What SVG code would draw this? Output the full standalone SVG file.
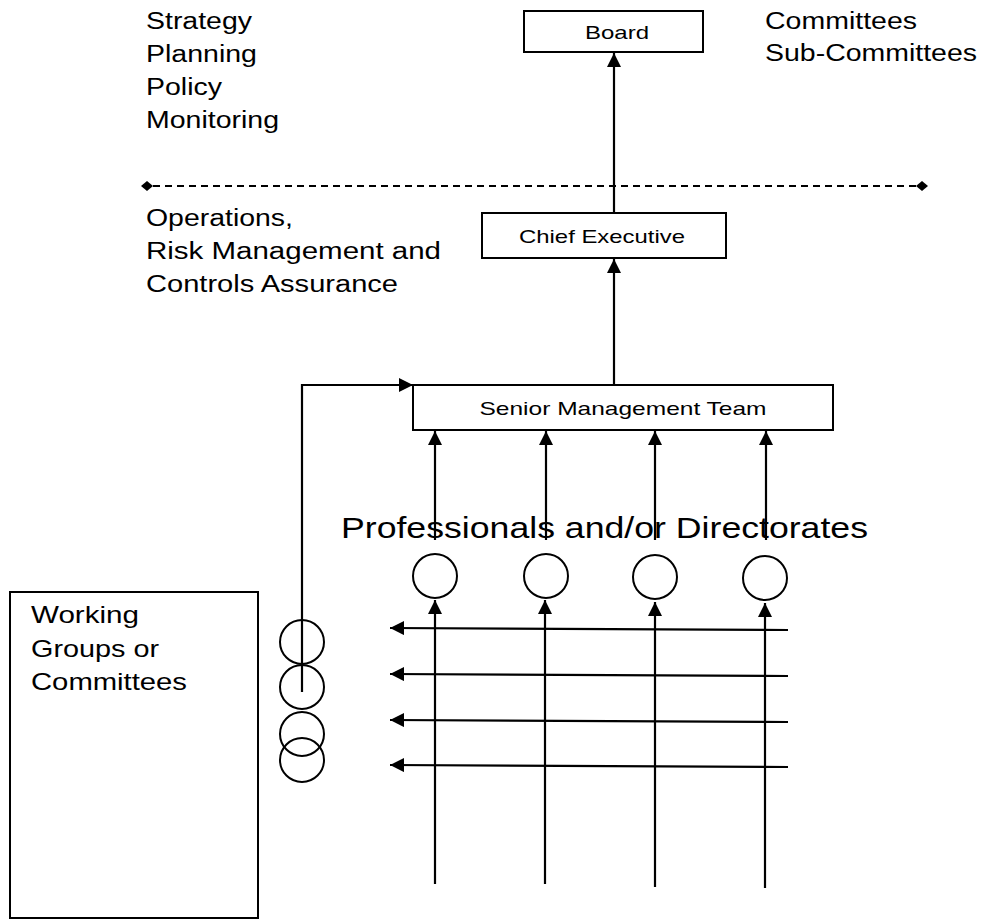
<svg xmlns="http://www.w3.org/2000/svg" width="994" height="920" viewBox="0 0 994 920">
<defs>
<style>
.t{font-family:"Liberation Sans",Arial,sans-serif;fill:#000}
.big{font-size:23px}
.bx{font-size:19px}
.box{fill:#fff;stroke:#000;stroke-width:2}
.ln{stroke:#000;stroke-width:2.2;fill:none}
.c{fill:none;stroke:#000;stroke-width:2}
</style>
<marker id="ah" viewBox="0 0 10 10" refX="10" refY="5" markerWidth="6.5" markerHeight="6.5" orient="auto"><path d="M0,0 L10,5 L0,10 z" fill="#000"/></marker>
</defs>
<rect width="994" height="920" fill="#fff"/>
<g id="labels-top">
<text class="t big" x="146" y="29" textLength="106" lengthAdjust="spacingAndGlyphs">Strategy</text>
<text class="t big" x="146" y="62" textLength="111" lengthAdjust="spacingAndGlyphs">Planning</text>
<text class="t big" x="146" y="95" textLength="76" lengthAdjust="spacingAndGlyphs">Policy</text>
<text class="t big" x="146" y="128" textLength="133" lengthAdjust="spacingAndGlyphs">Monitoring</text>
<text class="t big" x="765" y="29" textLength="152" lengthAdjust="spacingAndGlyphs">Committees</text>
<text class="t big" x="765" y="61" textLength="212" lengthAdjust="spacingAndGlyphs">Sub-Committees</text>
</g>
<g id="labels-ops">
<text class="t big" x="146" y="226" textLength="147" lengthAdjust="spacingAndGlyphs">Operations,</text>
<text class="t big" x="146" y="259" textLength="295" lengthAdjust="spacingAndGlyphs">Risk Management and</text>
<text class="t big" x="146" y="292" textLength="252" lengthAdjust="spacingAndGlyphs">Controls Assurance</text>
</g>
<g id="connectors">
<line class="ln" x1="153" y1="186" x2="916" y2="186" stroke-dasharray="7,5"/>
<polygon points="141,186 147,181 153,186 147,191" fill="#000"/>
<polygon points="916,186 922,181 928,186 922,191" fill="#000"/>
<line class="ln" x1="614" y1="213" x2="614" y2="53" marker-end="url(#ah)"/>
<line class="ln" x1="614" y1="384" x2="614" y2="259" marker-end="url(#ah)"/>
<polyline class="ln" points="302,692 302,385 413,385" marker-end="url(#ah)"/>
<line class="ln" x1="435" y1="540" x2="435" y2="431" marker-end="url(#ah)"/>
<line class="ln" x1="546" y1="540" x2="546" y2="431" marker-end="url(#ah)"/>
<line class="ln" x1="655" y1="540" x2="655" y2="431" marker-end="url(#ah)"/>
<line class="ln" x1="766" y1="540" x2="766" y2="431" marker-end="url(#ah)"/>
<line class="ln" x1="435" y1="884" x2="435" y2="600" marker-end="url(#ah)"/>
<line class="ln" x1="545" y1="884" x2="545" y2="600" marker-end="url(#ah)"/>
<line class="ln" x1="655" y1="887" x2="655" y2="602" marker-end="url(#ah)"/>
<line class="ln" x1="765" y1="888" x2="765" y2="603" marker-end="url(#ah)"/>
<line class="ln" x1="788" y1="630" x2="390" y2="628" marker-end="url(#ah)"/>
<line class="ln" x1="788" y1="676" x2="390" y2="674" marker-end="url(#ah)"/>
<line class="ln" x1="788" y1="722" x2="390" y2="720" marker-end="url(#ah)"/>
<line class="ln" x1="788" y1="767" x2="390" y2="765" marker-end="url(#ah)"/>
</g>
<g id="board">
<rect class="box" x="524" y="11" width="179" height="41"/>
<text class="t bx" x="617" y="39" text-anchor="middle" textLength="64" lengthAdjust="spacingAndGlyphs">Board</text>
</g>
<g id="chief-executive">
<rect class="box" x="482" y="213" width="244" height="45"/>
<text class="t bx" x="602" y="243" text-anchor="middle" textLength="166" lengthAdjust="spacingAndGlyphs">Chief Executive</text>
</g>
<g id="senior-management-team">
<rect class="box" x="413" y="385" width="420" height="45"/>
<text class="t bx" x="623" y="415" text-anchor="middle" textLength="287" lengthAdjust="spacingAndGlyphs">Senior Management Team</text>
</g>
<g id="professionals">
<text class="t" x="341" y="538" font-size="30" textLength="527" lengthAdjust="spacingAndGlyphs">Professionals and/or Directorates</text>
<circle class="c" cx="435" cy="576" r="22"/>
<circle class="c" cx="546" cy="576" r="22"/>
<circle class="c" cx="655" cy="577" r="22"/>
<circle class="c" cx="765" cy="578" r="22"/>
</g>
<g id="working-groups">
<rect class="box" x="10" y="592" width="248" height="326"/>
<text class="t" x="31" y="623" font-size="24" textLength="108" lengthAdjust="spacingAndGlyphs">Working</text>
<text class="t" x="31" y="657" font-size="24" textLength="128" lengthAdjust="spacingAndGlyphs">Groups or</text>
<text class="t" x="31" y="690" font-size="24" textLength="156" lengthAdjust="spacingAndGlyphs">Committees</text>
</g>
<g id="wg-circles">
<circle class="c" cx="302" cy="642" r="22"/>
<circle class="c" cx="302" cy="687" r="22"/>
<circle class="c" cx="302" cy="734" r="22"/>
<circle class="c" cx="302" cy="760" r="22"/>
</g>
</svg>
